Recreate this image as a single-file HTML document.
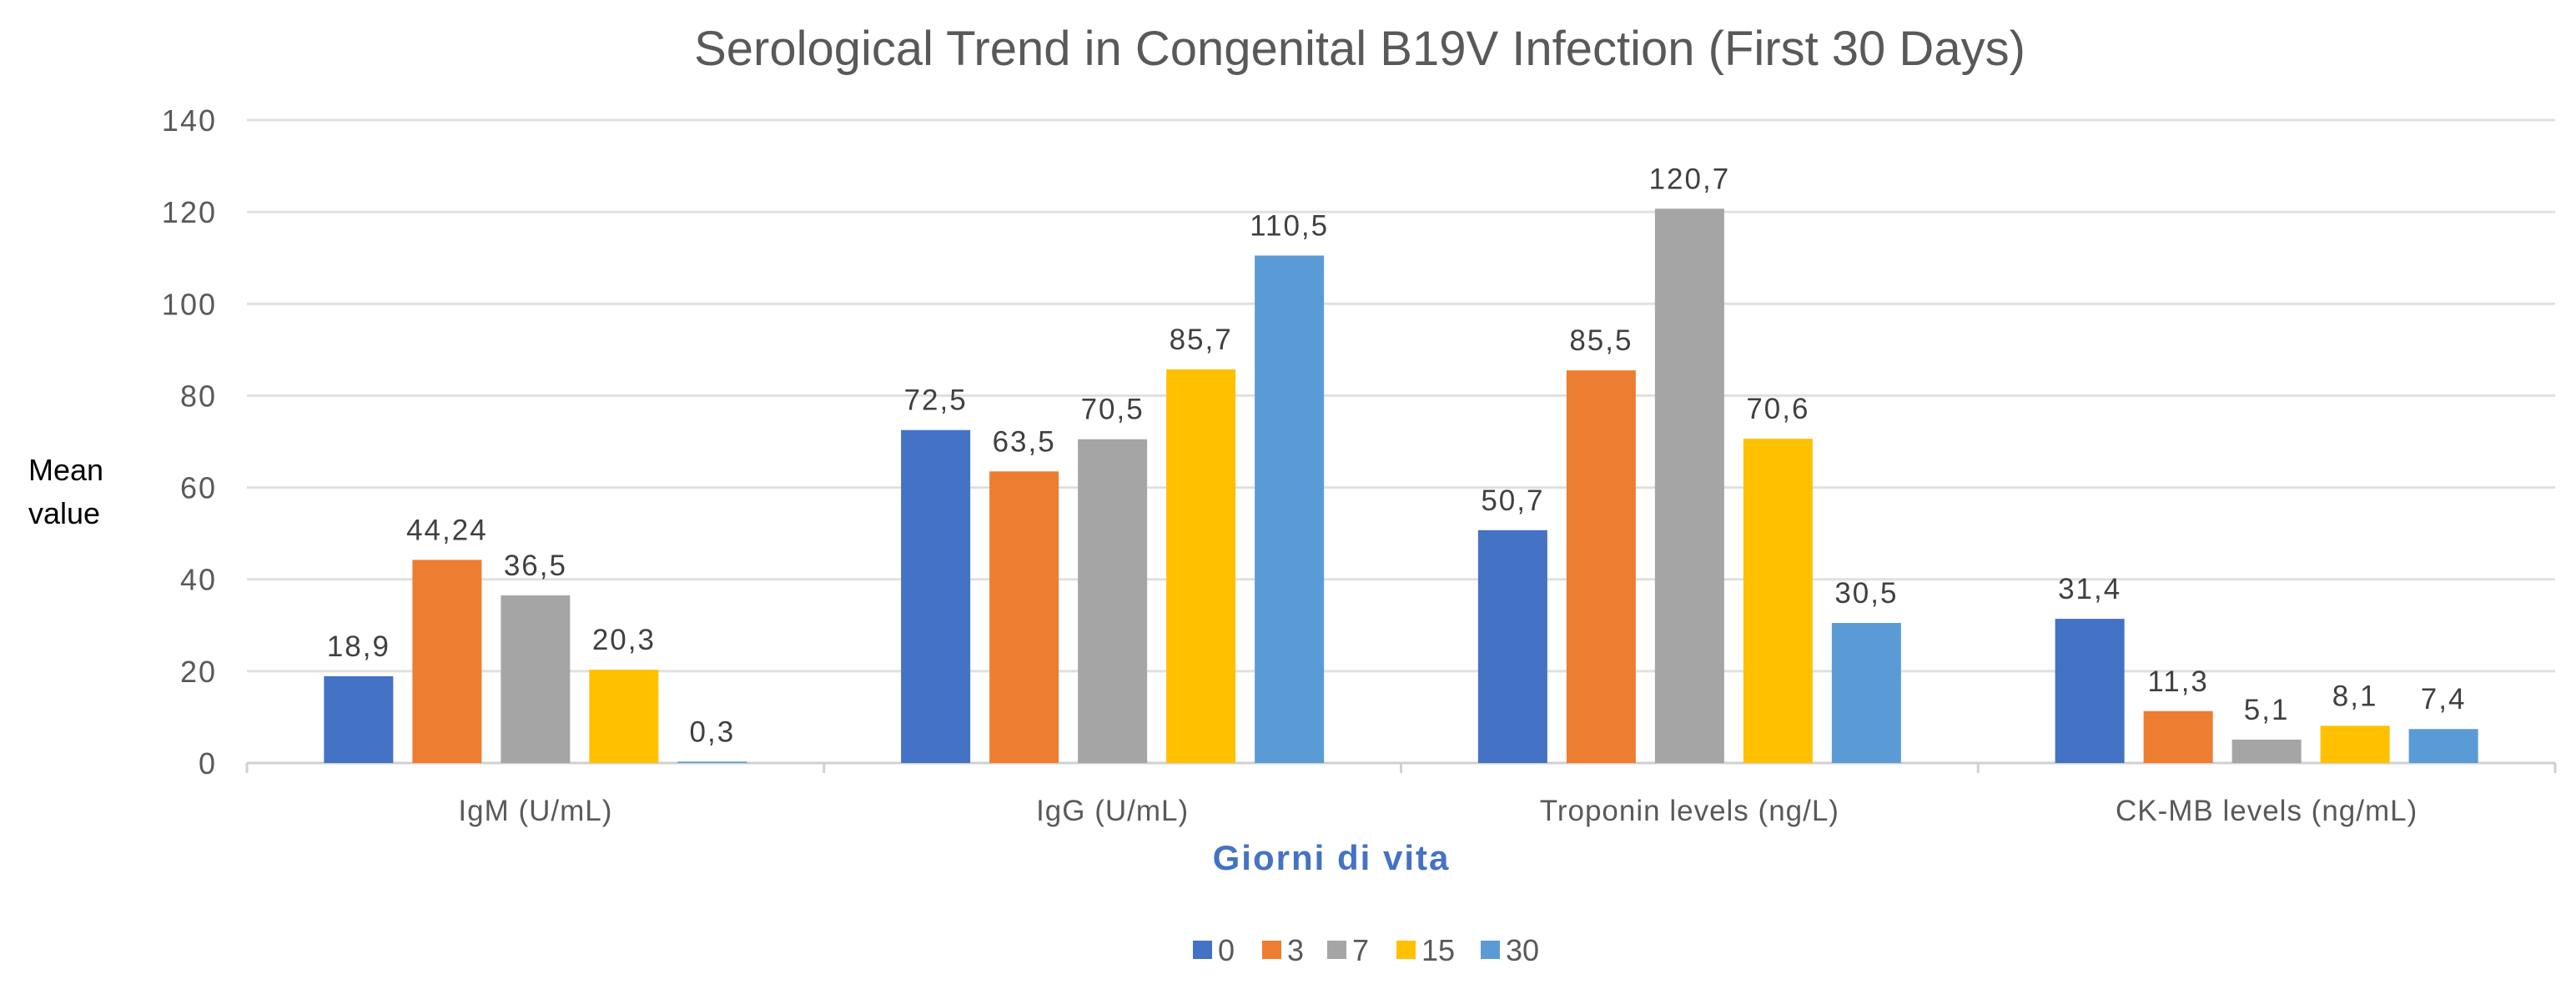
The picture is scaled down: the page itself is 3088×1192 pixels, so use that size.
<!DOCTYPE html>
<html><head><meta charset="utf-8"><style>
body{margin:0;background:#fff;}
svg text{font-family:"Liberation Sans",sans-serif;}
</style></head><body>
<svg id="chart" width="3088" height="1187" xmlns="http://www.w3.org/2000/svg">
<rect width="3088" height="1187" fill="#fff"/>
<text x="1630" y="78" font-size="58" fill="#595959" text-anchor="middle">Serological Trend in Congenital B19V Infection (First 30 Days)</text>
<text x="34" font-size="36" fill="#000"><tspan x="34" y="576">Mean</tspan><tspan x="34" y="628">value</tspan></text>
<text x="1596" y="1043" font-size="42" font-weight="bold" fill="#4472C4" text-anchor="middle" letter-spacing="2">Giorni di vita</text>
<g id="grid"></g><g id="bars"></g><g id="labels"></g><g id="legend"></g>
</svg>
<script>
const categories=["IgM (U/mL)","IgG (U/mL)","Troponin levels (ng/L)","CK-MB levels (ng/mL)"];
const seriesNames=["0","3","7","15","30"];
const day0=[18.9,72.5,50.7,31.4];
const day3=[44.24,63.5,85.5,11.3];
const day7=[36.5,70.5,120.7,5.1];
const day15=[20.3,85.7,70.6,8.1];
const day30=[0.3,110.5,30.5,7.4];
const valueLabels=[["18,9","72,5","50,7","31,4"],["44,24","63,5","85,5","11,3"],["36,5","70,5","120,7","5,1"],["20,3","85,7","70,6","8,1"],["0,3","110,5","30,5","7,4"]];
const yTicks=[0,20,40,60,80,100,120,140];
const colors=["#4472C4","#ED7D31","#A5A5A5","#FFC000","#5B9BD5"];
const series=[day0,day3,day7,day15,day30];
const NS="http://www.w3.org/2000/svg";
const L=296,R=3063,Y0=915,Y140=144;
const y=v=>Y0-(v/140)*(Y0-Y140);
const cw=(R-L)/categories.length, bw=83, gap=23;
const x=(c,s)=>L+c*cw+(cw-(5*bw+4*gap))/2+s*(bw+gap);
function mk(t,a,p){const e=document.createElementNS(NS,t);for(const k in a)e.setAttribute(k,a[k]);document.getElementById(p).appendChild(e);return e;}
yTicks.forEach(t=>{
 const l=mk('line',{x1:L,x2:R,y1:y(t),y2:y(t),stroke:t===0?'#d0d0d0':'#e0e0e0','stroke-width':3},'grid');
 
 
 const tx=mk('text',{x:260,y:y(t)+13,'font-size':36,fill:'#595959','text-anchor':'end','letter-spacing':2},'grid');tx.textContent=t;
 
 
});
for(let c=0;c<=categories.length;c++){
 const tk=mk('line',{x1:L+c*cw,x2:L+c*cw,y1:Y0,y2:Y0+12,stroke:'#d0d0d0','stroke-width':3},'grid');
 
 
}
categories.forEach((c,i)=>{
 const t=mk('text',{x:L+i*cw+cw/2,y:984,'font-size':35,fill:'#595959','text-anchor':'middle','letter-spacing':1},'labels');t.textContent=c;
 
 
});
series.forEach((s,si)=>s.forEach((v,ci)=>{
 const r=mk('rect',{x:x(ci,si),y:y(v),width:bw,height:Y0-y(v),fill:colors[si]},'bars');
 
 
 const t=mk('text',{x:x(ci,si)+bw/2,y:y(v)-24,'font-size':35,fill:'#404040','text-anchor':'middle','letter-spacing':2},'labels');t.textContent=valueLabels[si][ci];
 
 
}));
const lx=[1430,1513,1591,1674,1775];
seriesNames.forEach((n,i)=>{
 const r=mk('rect',{x:lx[i],y:1128,width:23,height:22,fill:colors[i]},'legend');
 
 
 const t=mk('text',{x:lx[i]+30,y:1152,'font-size':36,fill:'#595959'},'legend');t.textContent=n;
 
 
});
</script>
</body></html>
